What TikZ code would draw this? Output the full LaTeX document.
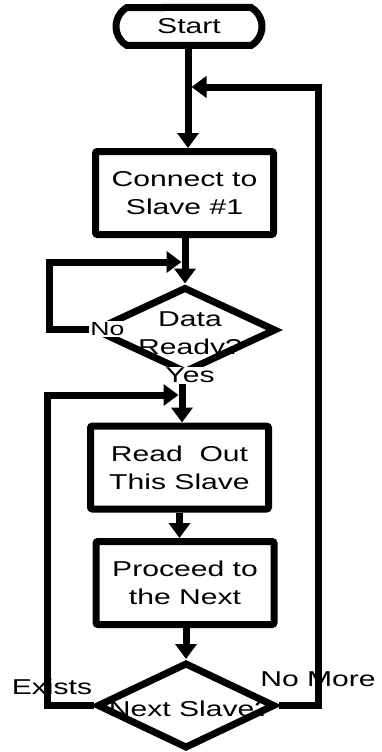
\documentclass[tikz,border=0pt]{standalone}
\usepackage{fontspec}
\setmainfont{Liberation Sans}[FakeStretch=1.4]
\usetikzlibrary{shapes.geometric,shapes.misc,arrows.meta,calc}
\begin{document}
\begin{tikzpicture}[x=1pt,y=-1pt,
  every node/.style={font=\fontsize{21.5}{28}\selectfont, align=center},
  flow/.style={line width=7pt},
  arr/.style={flow, -{Triangle[length=15pt,width=21pt]}},
  terminal/.style={rounded rectangle, rounded rectangle arc length=120, draw, line width=7pt,
    minimum width=146pt, minimum height=38pt, inner sep=0pt},
  procbox/.style={rectangle, draw, line width=7pt, rounded corners=2pt,
    minimum width=178pt, minimum height=83pt, inner sep=0pt},
  decision/.style={diamond, draw, line width=7pt, inner sep=0pt},
  lbl/.style={inner sep=0pt},
  tag/.style={fill=white, inner sep=1pt}
]
\useasboundingbox (0,0) rectangle (381,752);

% branch labels beside the outer loops (the loop lines run over them)
\node[lbl] (exists) at (52,687) {Exists};
\node[lbl] (nomore) at (318,679) {No More};

% main column
\node[terminal] (start) at (189,26.5) {Start};
\node[procbox] (box1) at (184.5,193) {Connect to\\Slave \#1};

\node[lbl] (d1t) at (190,335) {Data\\Ready?};
\node[decision, minimum width=182pt, minimum height=86pt] (d1) at (185,330) {};
\node[tag, font=\fontsize{19}{20}\selectfont] (no) at (107.5,329) {No};
\node[tag] (yes) at (190,375) {Yes};

\node[procbox] (box2) at (179.5,467.5) {Read~~Out\\This Slave};
\node[procbox] (box3) at (185,583) {Proceed to\\the Next};

\node[lbl] (d2t) at (190,709) {Next Slave?};
\node[decision, minimum width=178pt, minimum height=86pt] (d2) at (186,705.5) {};

% junctions where the loops rejoin the main column
\coordinate (j0) at (188,87);
\coordinate (j1) at (185,262);
\coordinate (j2) at (182,395);

% connectors
\draw[arr] (j0 |- start.south) -- (j0 |- box1.north);
\draw[arr] (d1.north |- box1.south) -- (d1.north);
\draw[arr, shorten >=3.5pt] (no.west) -- ++(-40,0) |- (j1);
\draw[arr] (j2 |- yes.south) -- (j2 |- box2.north);
\draw[arr] (box2.south) -- (box2.south |- box3.north);
\draw[arr] (d2.north |- box3.south) -- (d2.north);
\draw[arr, shorten >=3.5pt] (d2.west) -- ++(-46,0) |- (j2);
\draw[arr, shorten >=3.5pt] (d2.east) -- ++(40,0) |- (j0);
\end{tikzpicture}
\end{document}
